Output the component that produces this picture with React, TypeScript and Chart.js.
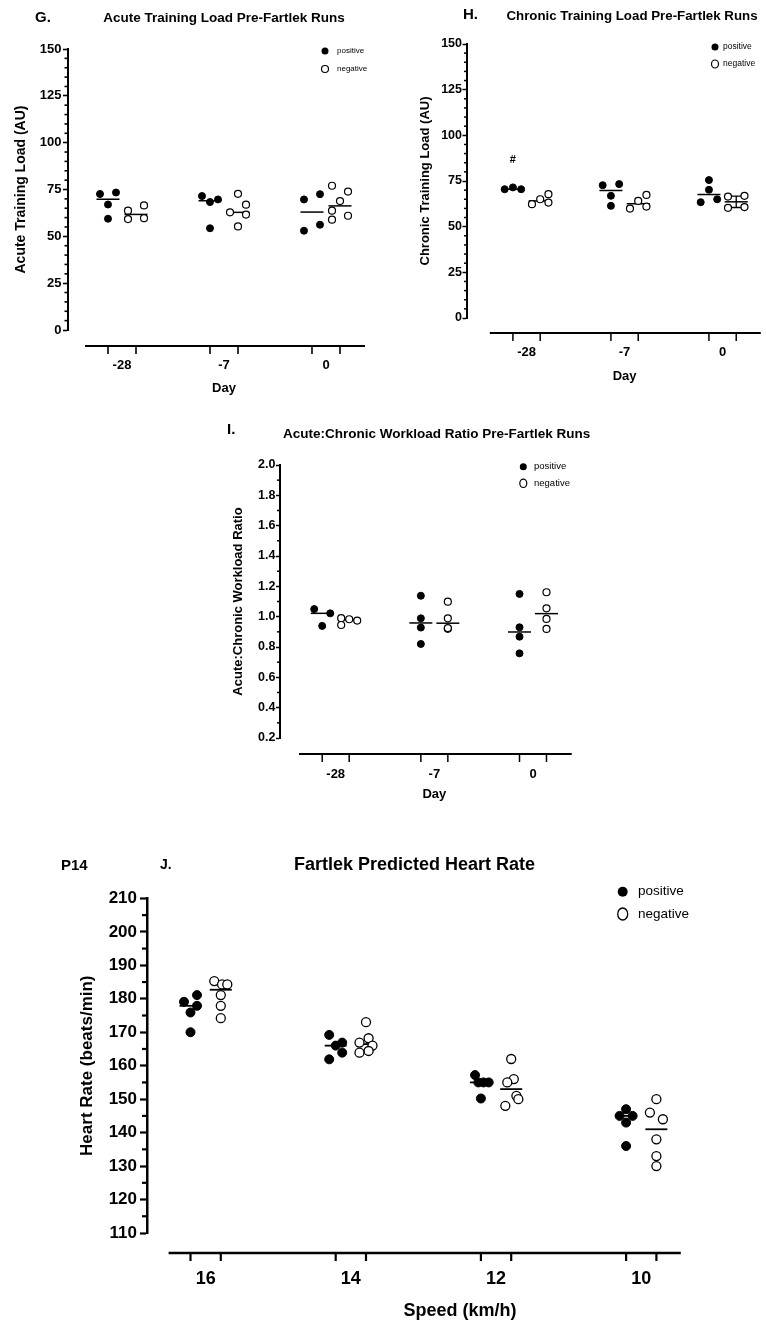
import React, { useEffect, useRef } from 'react';
import { Chart, registerables } from 'chart.js';

Chart.register(...registerables);

const FONT = '"Liberation Sans", Arial, Helvetica, sans-serif';

// ---------------- Data ----------------
const DAY_LABELS = ['-28', '-7', '0'];
const SPEED_LABELS = ['16', '14', '12', '10'];

// G. Acute Training Load (AU)
const G_POSITIVE = [
  [72.6, 73.4, 67, 59.4],
  [71.5, 68.3, 69.7, 54.3],
  [69.7, 72.5, 56.2, 53],
];
const G_NEGATIVE = [
  [63.7, 59.2, 66.5, 59.7],
  [72.7, 66.9, 62.8, 61.6, 55.3],
  [77, 73.9, 68.8, 63.7, 58.9, 61],
];
const G_POSITIVE_JITTER = [[-1, 1, 0, 0], [-1, 0, 1, 0], [-1, 1, 1, -1]];
const G_NEGATIVE_JITTER = [[-1, -1, 1, 1], [0, 1, -1, 1, 0], [-1, 1, 0, -1, -1, 1]];
const G_Y_TICKS = [0, 25, 50, 75, 100, 125, 150];

// H. Chronic Training Load (AU)
const H_POSITIVE = [
  [70.5, 71.5, 70.5],
  [72.7, 73.3, 66.9, 61.4],
  [75.5, 70.2, 63.4, 65],
];
const H_NEGATIVE = [
  [62.3, 65, 67.8, 63.2],
  [59.9, 64.1, 67.4, 61],
  [66.5, 66.9, 60.3, 60.7],
];
const H_POSITIVE_JITTER = [[-1, 0, 1], [-1, 1, 0, 0], [0, 0, -1, 1]];
const H_NEGATIVE_JITTER = [[-1, 0, 1, 1], [-1, 0, 1, 1], [-1, 1, -1, 1]];
const H_Y_TICKS = [0, 25, 50, 75, 100, 125, 150];
const H_DAY0_NEGATIVE_RANGE = [60.5, 66.7];
const H_MARK_VALUE = 86.6;

// I. Acute:Chronic Workload Ratio
const I_POSITIVE = [
  [1.05, 1.022, 0.939],
  [1.138, 0.989, 0.928, 0.82],
  [1.15, 0.93, 0.868, 0.758],
];
const I_NEGATIVE = [
  [0.99, 0.945, 0.983, 0.974],
  [1.099, 0.989, 0.92, 0.925],
  [1.161, 1.055, 0.985, 0.919],
];
const I_POSITIVE_JITTER = [[-1, 1, 0], [0, 0, 0, 0], [0, 0, 0, 0]];
const I_NEGATIVE_JITTER = [[-1, -1, 0, 1], [0, 0, 0, 0], [0, 0, 0, 0]];
const I_Y_TICKS = [0.2, 0.4, 0.6, 0.8, 1.0, 1.2, 1.4, 1.6, 1.8, 2.0];

// J. Fartlek Predicted Heart Rate (beats/min)
const J_POSITIVE = [
  [179.1, 181.1, 177.9, 175.9, 170],
  [169.2, 166.9, 166, 163.9, 161.9],
  [157.2, 155, 155, 155, 150.2],
  [147, 145, 145, 143, 136],
];
const J_NEGATIVE = [
  [185.3, 184.3, 184.3, 181.1, 177.9, 174.2],
  [173, 166.9, 168.2, 166, 163.9, 164.4],
  [162, 156, 155, 151, 150, 148],
  [150, 146, 144, 138, 133, 130],
];
const J_POSITIVE_JITTER = [[-1, 1, 1, 0, 0], [-1, 1, 0, 1, -1], [-0.9, -0.4, 0.4, 1.2, 0], [0, -1, 1, 0, 0]];
const J_NEGATIVE_JITTER = [[-1, 0.2, 1, 0, 0, 0], [0, -1, 0.4, 1, -1, 0.4], [0, 0.4, -0.6, 0.8, 1.1, -0.9], [0, -1, 1, 0, 0, 0]];
const J_Y_TICKS = [110, 120, 130, 140, 150, 160, 170, 180, 190, 200, 210];

// ---------------- Helpers ----------------
const median = (arr: number[]) => {
  const s = [...arr].sort((a, b) => a - b);
  const n = s.length;
  return n % 2 ? s[(n - 1) / 2] : (s[n / 2 - 1] + s[n / 2]) / 2;
};

function withMinor(majors: number[], div: number) {
  const out: number[] = [];
  for (let i = 0; i < majors.length; i++) {
    out.push(majors[i]);
    if (i < majors.length - 1) {
      const step = (majors[i + 1] - majors[i]) / div;
      for (let k = 1; k < div; k++) out.push(majors[i] + step * k);
    }
  }
  return out;
}

type TextItem = { text: string; x: number; y: number; size: number; weight: string; align: CanvasTextAlign };

type PanelCfg = {
  id: string; left: number; top: number; width: number; height: number;
  pad: { left: number; right: number; top: number; bottom: number };
  categories: string[];
  positive: number[][]; negative: number[][]; posJitter: number[][]; negJitter: number[][];
  yTicks: number[]; yMinorDiv: number; yDecimals: number;
  yAxisWidth: number; yTickFont: number; yLabelPad: number; majorTick: number; minorTick: number;
  axisWidth: number; tickWidth: number;
  yTitle: string; yTitleFont: number; yTitlePad: number;
  xMin: number; xMax: number; halfGap: number; jitter: number;
  xAxisStart: number; xAxisGap: number; xTickLen: number; xLabelDy: number; xLabelFont: number;
  xTitle: string; xTitleAt: number; xTitleDy: number; xTitleFont: number;
  pointRadius: number; openWidth: number; medianHalf: number; medianWidth: number;
  legend: { x: number; y1: number; y2: number; textX: number; font: number; r: number; ry: number };
  texts: TextItem[];
  errorBar?: { cat: number; side: number; range: number[]; cap: number };
  mark?: { text: string; cat: number; side: number; value: number; size: number };
};

const PANELS: PanelCfg[] = [
  {
    id: 'G', left: 0, top: 0, width: 380, height: 400,
    pad: { left: 8, right: 15, top: 49, bottom: 70 },
    categories: DAY_LABELS,
    positive: G_POSITIVE, negative: G_NEGATIVE, posJitter: G_POSITIVE_JITTER, negJitter: G_NEGATIVE_JITTER,
    yTicks: G_Y_TICKS, yMinorDiv: 5, yDecimals: 0,
    yAxisWidth: 60, yTickFont: 13, yLabelPad: 1.5, majorTick: 5, minorTick: 3.5,
    axisWidth: 2, tickWidth: 1.6,
    yTitle: 'Acute Training Load (AU)', yTitleFont: 14, yTitlePad: 4.6,
    xMin: -0.5294, xMax: 2.3824, halfGap: 0.1373, jitter: 0.0784,
    xAxisStart: -0.3627, xAxisGap: 16, xTickLen: 8, xLabelDy: 19, xLabelFont: 13,
    xTitle: 'Day', xTitleAt: 1, xTitleDy: 42, xTitleFont: 13,
    pointRadius: 3.5, openWidth: 1.2, medianHalf: 11.5, medianWidth: 1.5,
    legend: { x: 325, y1: 51, y2: 69, textX: 337, font: 8, r: 3.5, ry: 3.5 },
    texts: [
      { text: 'G.', x: 35, y: 18, size: 15, weight: 'bold', align: 'left' },
      { text: 'Acute Training Load Pre-Fartlek Runs', x: 224, y: 18, size: 13.5, weight: 'bold', align: 'center' },
    ],
  },
  {
    id: 'H', left: 380, top: 0, width: 386, height: 390,
    pad: { left: 27, right: 3, top: 44, bottom: 72 },
    categories: DAY_LABELS,
    positive: H_POSITIVE, negative: H_NEGATIVE, posJitter: H_POSITIVE_JITTER, negJitter: H_NEGATIVE_JITTER,
    yTicks: H_Y_TICKS, yMinorDiv: 5, yDecimals: 0,
    yAxisWidth: 60, yTickFont: 12.5, yLabelPad: 0.5, majorTick: 4.5, minorTick: 3,
    axisWidth: 2, tickWidth: 1.5,
    yTitle: 'Chronic Training Load (AU)', yTitleFont: 13, yTitlePad: 10.2,
    xMin: -0.6076, xMax: 2.3899, halfGap: 0.1392, jitter: 0.084,
    xAxisStart: -0.3747, xAxisGap: 15, xTickLen: 8, xLabelDy: 19, xLabelFont: 13,
    xTitle: 'Day', xTitleAt: 1, xTitleDy: 43, xTitleFont: 13,
    pointRadius: 3.5, openWidth: 1.2, medianHalf: 11.5, medianWidth: 1.5,
    legend: { x: 335, y1: 47, y2: 64, textX: 343, font: 8.5, r: 3.5, ry: 4 },
    texts: [
      { text: 'H.', x: 83, y: 15, size: 15, weight: 'bold', align: 'left' },
      { text: 'Chronic Training Load Pre-Fartlek Runs', x: 252, y: 16, size: 13.3, weight: 'bold', align: 'center' },
    ],
    errorBar: { cat: 2, side: 1, range: H_DAY0_NEGATIVE_RANGE, cap: 6 },
    mark: { text: '#', cat: 0, side: -1, value: H_MARK_VALUE, size: 11 },
  },
  {
    id: 'I', left: 200, top: 420, width: 400, height: 390,
    pad: { left: 20, right: 28.3, top: 45, bottom: 72 },
    categories: DAY_LABELS,
    positive: I_POSITIVE, negative: I_NEGATIVE, posJitter: I_POSITIVE_JITTER, negJitter: I_NEGATIVE_JITTER,
    yTicks: I_Y_TICKS, yMinorDiv: 2, yDecimals: 1,
    yAxisWidth: 60, yTickFont: 12.5, yLabelPad: 0.5, majorTick: 4, minorTick: 3,
    axisWidth: 2, tickWidth: 1.5,
    yTitle: 'Acute:Chronic Workload Ratio', yTitleFont: 13, yTitlePad: 10.2,
    xMin: -0.5646, xMax: 2.3923, halfGap: 0.1368, jitter: 0.0811,
    xAxisStart: -0.372, xAxisGap: 16, xTickLen: 8, xLabelDy: 20, xLabelFont: 13,
    xTitle: 'Day', xTitleAt: 1, xTitleDy: 40, xTitleFont: 13,
    pointRadius: 3.5, openWidth: 1.2, medianHalf: 11.5, medianWidth: 1.5,
    legend: { x: 323.3, y1: 46.7, y2: 63.3, textX: 334, font: 9.5, r: 3.5, ry: 4.2 },
    texts: [
      { text: 'I.', x: 27, y: 10, size: 15, weight: 'bold', align: 'left' },
      { text: 'Acute:Chronic Workload Ratio Pre-Fartlek Runs', x: 83, y: 14, size: 13.5, weight: 'bold', align: 'left' },
    ],
  },
  {
    id: 'J', left: 0, top: 840, width: 766, height: 487,
    pad: { left: 57, right: 85.2, top: 58.4, bottom: 94 },
    categories: SPEED_LABELS,
    positive: J_POSITIVE, negative: J_NEGATIVE, posJitter: J_POSITIVE_JITTER, negJitter: J_NEGATIVE_JITTER,
    yTicks: J_Y_TICKS, yMinorDiv: 2, yDecimals: 0,
    yAxisWidth: 90, yTickFont: 17, yLabelPad: 3, majorTick: 7, minorTick: 5,
    axisWidth: 2.5, tickWidth: 2.2,
    yTitle: 'Heart Rate (beats/min)', yTitleFont: 17, yTitlePad: 19.8,
    xMin: -0.4039, xMax: 3.2724, halfGap: 0.1043, jitter: 0.0448,
    xAxisStart: -0.2552, xAxisGap: 20, xTickLen: 8, xLabelDy: 26.5, xLabelFont: 18,
    xTitle: 'Speed (km/h)', xTitleAt: 1.7517, xTitleDy: 58.5, xTitleFont: 18,
    pointRadius: 4.5, openWidth: 1.3, medianHalf: 11, medianWidth: 1.8,
    legend: { x: 622.7, y1: 51.7, y2: 74, textX: 638, font: 13.5, r: 5, ry: 6 },
    texts: [
      { text: 'P14', x: 61, y: 25.5, size: 15, weight: 'bold', align: 'left' },
      { text: 'J.', x: 160, y: 25.5, size: 14, weight: 'bold', align: 'left' },
      { text: 'Fartlek Predicted Heart Rate', x: 414.5, y: 25, size: 18, weight: 'bold', align: 'center' },
    ],
  },
];

function drawText(ctx: CanvasRenderingContext2D, t: string, x: number, y: number, size: number, weight: string, align: CanvasTextAlign) {
  ctx.font = `${weight} ${size}px ${FONT}`;
  ctx.fillStyle = '#000';
  ctx.textAlign = align;
  ctx.textBaseline = 'middle';
  ctx.fillText(t, x, y);
}

function buildConfig(p: PanelCfg): any {
  const isMajor = (v: number) => p.yTicks.some((m) => Math.abs(m - v) < 1e-6);
  const allTicks = withMinor(p.yTicks, p.yMinorDiv);
  const toPoints = (groups: number[][], jit: number[][], side: number) =>
    groups.flatMap((vals, ci) => vals.map((v, k) => ({ x: ci + side * p.halfGap + jit[ci][k] * p.jitter, y: v })));

  const decor = {
    id: 'decor' + p.id,
    beforeDatasetsDraw(chart: any) {
      const { ctx } = chart;
      const xs = chart.scales.x;
      const ys = chart.scales.y;
      ctx.save();
      ctx.strokeStyle = '#000';
      ctx.lineWidth = p.medianWidth;
      const sets: [number[][], number][] = [[p.positive, -1], [p.negative, 1]];
      sets.forEach(([groups, side]) => {
        groups.forEach((vals, ci) => {
          const cx = xs.getPixelForValue(ci + side * p.halfGap);
          const y = ys.getPixelForValue(median(vals));
          ctx.beginPath();
          ctx.moveTo(cx - p.medianHalf, y);
          ctx.lineTo(cx + p.medianHalf, y);
          ctx.stroke();
        });
      });
      if (p.errorBar) {
        const e = p.errorBar;
        const cx = xs.getPixelForValue(e.cat + e.side * p.halfGap);
        const y1 = ys.getPixelForValue(e.range[0]);
        const y2 = ys.getPixelForValue(e.range[1]);
        ctx.lineWidth = 1.3;
        ctx.beginPath();
        ctx.moveTo(cx, y1); ctx.lineTo(cx, y2);
        ctx.moveTo(cx - e.cap, y1); ctx.lineTo(cx + e.cap, y1);
        ctx.moveTo(cx - e.cap, y2); ctx.lineTo(cx + e.cap, y2);
        ctx.stroke();
      }
      ctx.restore();
    },
    afterDraw(chart: any) {
      const { ctx, chartArea: ca } = chart;
      const xs = chart.scales.x;
      const ys = chart.scales.y;
      ctx.save();
      ctx.strokeStyle = '#000';
      // minor y ticks
      ctx.lineWidth = p.tickWidth;
      ys.ticks.forEach((t: any) => {
        if (isMajor(t.value)) return;
        const y = ys.getPixelForValue(t.value);
        ctx.beginPath();
        ctx.moveTo(ca.left - p.minorTick, y);
        ctx.lineTo(ca.left, y);
        ctx.stroke();
      });
      // detached x axis
      const yL = ca.bottom + p.xAxisGap;
      ctx.lineWidth = p.axisWidth;
      ctx.beginPath();
      ctx.moveTo(xs.getPixelForValue(p.xAxisStart), yL);
      ctx.lineTo(ca.right, yL);
      ctx.stroke();
      ctx.lineWidth = p.tickWidth;
      p.categories.forEach((c, ci) => {
        [-1, 1].forEach((side) => {
          const x = xs.getPixelForValue(ci + side * p.halfGap);
          ctx.beginPath();
          ctx.moveTo(x, yL);
          ctx.lineTo(x, yL + p.xTickLen);
          ctx.stroke();
        });
        drawText(ctx, c, xs.getPixelForValue(ci), yL + p.xLabelDy, p.xLabelFont, 'bold', 'center');
      });
      drawText(ctx, p.xTitle, xs.getPixelForValue(p.xTitleAt), yL + p.xTitleDy, p.xTitleFont, 'bold', 'center');
      // titles
      p.texts.forEach((t) => drawText(ctx, t.text, t.x, t.y, t.size, t.weight, t.align));
      // legend
      const L = p.legend;
      ctx.fillStyle = '#000';
      ctx.beginPath();
      ctx.arc(L.x, L.y1, L.r, 0, Math.PI * 2);
      ctx.fill();
      ctx.lineWidth = p.openWidth;
      ctx.beginPath();
      ctx.ellipse(L.x, L.y2, L.r, L.ry, 0, 0, Math.PI * 2);
      ctx.stroke();
      drawText(ctx, 'positive', L.textX, L.y1, L.font, 'normal', 'left');
      drawText(ctx, 'negative', L.textX, L.y2, L.font, 'normal', 'left');
      // significance mark
      if (p.mark) {
        const m = p.mark;
        drawText(ctx, m.text, xs.getPixelForValue(m.cat + m.side * p.halfGap), ys.getPixelForValue(m.value), m.size, 'bold', 'center');
      }
      ctx.restore();
    },
  };

  return {
    type: 'scatter',
    data: {
      datasets: [
        {
          label: 'positive',
          data: toPoints(p.positive, p.posJitter, -1),
          pointRadius: p.pointRadius,
          pointBackgroundColor: '#000',
          pointBorderColor: '#000',
          pointBorderWidth: 1,
          showLine: false,
        },
        {
          label: 'negative',
          data: toPoints(p.negative, p.negJitter, 1),
          pointRadius: p.pointRadius,
          pointBackgroundColor: '#fff',
          pointBorderColor: '#000',
          pointBorderWidth: p.openWidth,
          showLine: false,
        },
      ],
    },
    options: {
      responsive: false,
      animation: false,
      devicePixelRatio: 1,
      events: [],
      layout: { padding: p.pad },
      plugins: { legend: { display: false }, title: { display: false }, tooltip: { enabled: false } },
      scales: {
        x: { type: 'linear', display: false, min: p.xMin, max: p.xMax },
        y: {
          type: 'linear',
          position: 'left',
          min: p.yTicks[0],
          max: p.yTicks[p.yTicks.length - 1],
          afterFit: (s: any) => { s.width = p.yAxisWidth; },
          afterBuildTicks: (s: any) => { s.ticks = allTicks.map((v) => ({ value: v })); },
          ticks: {
            autoSkip: false,
            color: '#000',
            padding: p.yLabelPad,
            font: { family: FONT, size: p.yTickFont, weight: 'bold' },
            callback: (v: any) => (isMajor(Number(v)) ? Number(v).toFixed(p.yDecimals) : ''),
          },
          grid: {
            drawOnChartArea: false,
            drawTicks: true,
            tickLength: p.majorTick,
            tickWidth: p.tickWidth,
            tickColor: (c: any) => (c.tick && isMajor(c.tick.value) ? '#000' : 'rgba(0,0,0,0)'),
          },
          border: { display: true, color: '#000', width: p.axisWidth },
          title: {
            display: true,
            text: p.yTitle,
            color: '#000',
            font: { family: FONT, size: p.yTitleFont, weight: 'bold' },
            padding: { top: p.yTitlePad, bottom: 0 },
          },
        },
      },
    },
    plugins: [decor],
  };
}

function Panel({ cfg }: { cfg: PanelCfg }) {
  const ref = useRef<HTMLCanvasElement | null>(null);
  useEffect(() => {
    if (!ref.current) return;
    const chart = new Chart(ref.current, buildConfig(cfg));
    return () => chart.destroy();
  }, [cfg]);
  return (
    <canvas
      ref={ref}
      width={cfg.width}
      height={cfg.height}
      style={{ position: 'absolute', left: cfg.left, top: cfg.top, width: cfg.width, height: cfg.height }}
    />
  );
}

export default function App() {
  return (
    <div style={{ position: 'absolute', left: 0, top: 0, width: 766, height: 1327, background: '#fff' }}>
      {PANELS.map((p) => (
        <Panel key={p.id} cfg={p} />
      ))}
    </div>
  );
}
